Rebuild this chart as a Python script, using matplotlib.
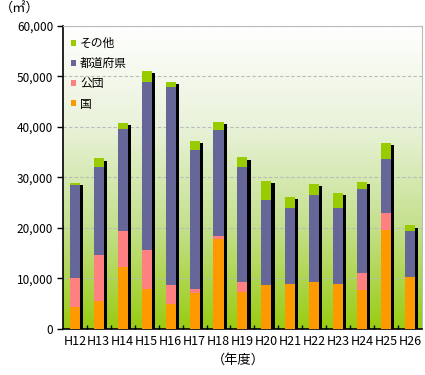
import matplotlib
matplotlib.use("Agg")
import matplotlib.pyplot as plt
import numpy as np
from matplotlib.colors import LinearSegmentedColormap
from matplotlib.ticker import FuncFormatter

plt.rcParams['font.family'] = ['Noto Sans CJK JP', 'DejaVu Sans']

categories = ["H12", "H13", "H14", "H15", "H16", "H17", "H18", "H19", "H20",
              "H21", "H22", "H23", "H24", "H25", "H26"]
kuni =      [4400, 5600, 12200, 7900, 5000, 7200, 17900, 7400, 8700, 8900, 9300, 8900, 7700, 19700, 10300]
kodan =     [5600, 9100, 7300, 7800, 3700, 800, 600, 1900, 0, 0, 0, 0, 3400, 3200, 0]
todofuken = [18600, 17400, 20100, 33200, 39200, 27400, 20900, 22700, 16900, 15100, 17300, 15100, 16700, 10700, 9200]
sonota =    [300, 1700, 1200, 2200, 1000, 1800, 1600, 2000, 3800, 2200, 2200, 3000, 1400, 3200, 1000]

series = [("国", kuni, "#FF9900"),
          ("公団", kodan, "#FF8080"),
          ("都道府県", todofuken, "#666699"),
          ("その他", sonota, "#99CC00")]

fig = plt.figure(figsize=(4.25, 3.75), dpi=100)
ax = fig.add_axes([0.148, 0.1227, 0.845, 0.808])

x = np.arange(len(categories))
ymax = 60000
ax.set_xlim(-0.5, len(categories) - 0.5)
ax.set_ylim(0, ymax)

# gradient background
cmap = LinearSegmentedColormap.from_list("bg", ["#FFFFFF", "#E9F2DA", "#C4E08C", "#99CC11"], N=256)
grad = np.linspace(0, 1, 256).reshape(-1, 1)
ax.imshow(grad, aspect="auto", cmap=cmap, origin="upper",
          extent=[-0.5, len(categories) - 0.5, 0, ymax], zorder=0)

# grid
for v in range(10000, 60001, 10000):
    ax.axhline(v, color="#BBBBBB", linestyle=(0, (3, 2)), linewidth=0.8, zorder=1)

totals = np.sum([s[1] for s in series], axis=0)
w = 0.42
# shadow
ax.bar(x + 0.13, totals - 450, width=w, color="black", zorder=2)

bottom = np.zeros(len(categories))
handles = []
for name, vals, col in series:
    vals = np.array(vals)
    b = ax.bar(x, vals, width=w, bottom=bottom, color=col, zorder=3, label=name)
    handles.append(b)
    bottom += vals

# legend
leg = ax.legend(handles[::-1], [s[0] for s in series][::-1], loc="upper left",
                bbox_to_anchor=(0.0, 0.99), frameon=False, fontsize=8.5,
                handlelength=0.45, handleheight=0.45, handletextpad=0.3,
                labelspacing=0.6, borderaxespad=0.3)

# axes styling
ax.set_yticks(range(0, 60001, 10000))
ax.yaxis.set_major_formatter(FuncFormatter(lambda v, p: f"{int(v):,}"))
ax.tick_params(axis="y", direction="out", length=4, width=1, labelsize=8.5, pad=3)
ax.set_xticks(x)
ax.set_xticklabels(categories)
ax.tick_params(axis="x", which="major", length=0, labelsize=9, pad=4)
ax.set_xticks(np.arange(-0.5, len(categories) + 0.5, 1)[1:-1], minor=True)
ax.tick_params(axis="x", which="minor", direction="in", length=3, width=1, color="black")

for side in ["top", "right"]:
    ax.spines[side].set_color("#BBBBBB")
ax.spines["left"].set_color("black")
ax.spines["bottom"].set_color("black")
ax.spines["left"].set_linewidth(1.2)
ax.spines["bottom"].set_linewidth(1.2)

fig.text(0.0, 0.975, "（㎡）", fontsize=9.5, ha="left", va="center")
fig.text(0.56, 0.04, "（年度）", fontsize=9.5, ha="center", va="center")

fig.savefig("out.png", dpi=100)
